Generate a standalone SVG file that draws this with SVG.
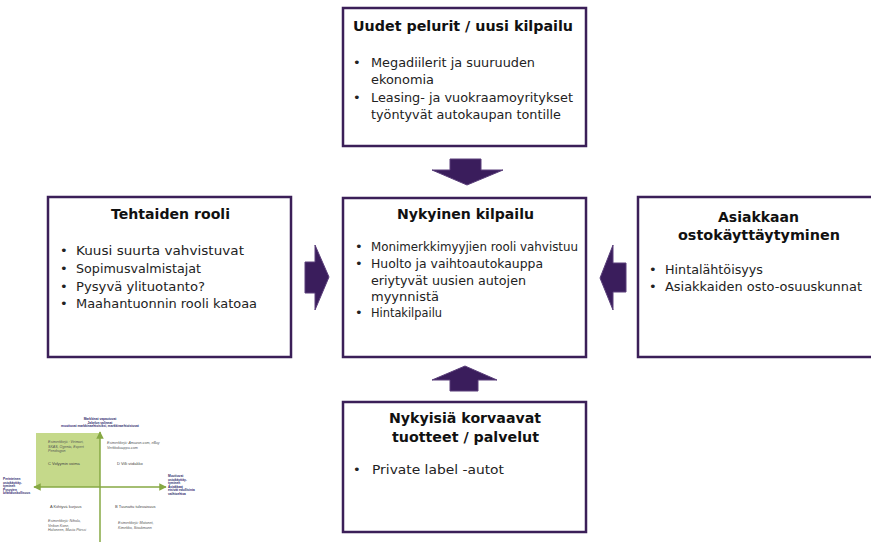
<svg xmlns="http://www.w3.org/2000/svg" width="871" height="542" viewBox="0 0 871 542">
<style>
.box{fill:#fff;stroke:#3b1f58;stroke-width:2.5}
.arr{fill:#3a1d5c;stroke:#5a3f7a;stroke-width:1}
.t{font-family:"DejaVu Sans",Verdana,sans-serif;font-size:14px;font-weight:bold;fill:#111}
.b{font-family:"DejaVu Sans",Verdana,sans-serif;font-size:13px;fill:#222}
.ax{stroke:#86a843;stroke-width:1.5;fill:none}
.c{font-family:"Liberation Sans",Arial,sans-serif;font-size:4px;fill:#444}
.ci{font-family:"Liberation Sans",Arial,sans-serif;font-size:3.6px;fill:#555;font-style:italic}
.cl{font-family:"Liberation Sans",Arial,sans-serif;font-size:3.2px;fill:#2e2a6e;font-weight:bold}
</style>
<defs>
<marker id="ah" viewBox="0 0 10 10" refX="9" refY="5" markerWidth="5" markerHeight="5" orient="auto-start-reverse">
<path d="M0,0 L10,5 L0,10 z" fill="#86a843"/>
</marker>
</defs>

<g id="connectors">
<path class="arr" d="M450,159 H481 V170 H503 L467,185 L432,170 H450 Z"/>
<path class="arr" d="M305,262 H315 V245 L329,277 L315,310 V293 H305 Z"/>
<path class="arr" d="M626,263 H613 V245 L600,278 L613,310 V292 H626 Z"/>
<path class="arr" d="M450,391 H478 V380 H497 L465,366 L432,380 H450 Z"/>
</g>

<g id="uudet">
<rect class="box" x="343" y="8" width="243" height="138"/>
<text class="t" x="353" y="31" textLength="220" lengthAdjust="spacingAndGlyphs">Uudet pelurit / uusi kilpailu</text>
<text class="b" x="353" y="67">•</text><text class="b" x="371" y="67" textLength="164" lengthAdjust="spacingAndGlyphs">Megadiilerit ja suuruuden</text>
<text class="b" x="371" y="84" textLength="63" lengthAdjust="spacingAndGlyphs">ekonomia</text>
<text class="b" x="353" y="102">•</text><text class="b" x="371" y="102" textLength="202" lengthAdjust="spacingAndGlyphs">Leasing- ja vuokraamoyritykset</text>
<text class="b" x="371" y="119" textLength="190" lengthAdjust="spacingAndGlyphs">työntyvät autokaupan tontille</text>
</g>

<g id="tehtaiden">
<rect class="box" x="48" y="197" width="243" height="160"/>
<text class="t" x="111" y="219" textLength="119" lengthAdjust="spacingAndGlyphs">Tehtaiden rooli</text>
<text class="b" x="60" y="255">•</text><text class="b" x="76" y="255" textLength="168" lengthAdjust="spacingAndGlyphs">Kuusi suurta vahvistuvat</text>
<text class="b" x="60" y="273">•</text><text class="b" x="76" y="273" textLength="125" lengthAdjust="spacingAndGlyphs">Sopimusvalmistajat</text>
<text class="b" x="60" y="291">•</text><text class="b" x="76" y="291" textLength="129" lengthAdjust="spacingAndGlyphs">Pysyvä ylituotanto?</text>
<text class="b" x="60" y="308">•</text><text class="b" x="76" y="308" textLength="181" lengthAdjust="spacingAndGlyphs">Maahantuonnin rooli katoaa</text>
</g>

<g id="nykyinen">
<rect class="box" x="343" y="198" width="243" height="159"/>
<text class="t" x="397" y="219" textLength="137" lengthAdjust="spacingAndGlyphs">Nykyinen kilpailu</text>
<text class="b" x="355" y="251">•</text><text class="b" x="371" y="251" textLength="207" lengthAdjust="spacingAndGlyphs">Monimerkkimyyjien rooli vahvistuu</text>
<text class="b" x="355" y="268">•</text><text class="b" x="371" y="268" textLength="172" lengthAdjust="spacingAndGlyphs">Huolto ja vaihtoautokauppa</text>
<text class="b" x="371" y="285" textLength="155" lengthAdjust="spacingAndGlyphs">eriytyvät uusien autojen</text>
<text class="b" x="371" y="301" textLength="68" lengthAdjust="spacingAndGlyphs">myynnistä</text>
<text class="b" x="355" y="317">•</text><text class="b" x="371" y="317" textLength="71" lengthAdjust="spacingAndGlyphs">Hintakilpailu</text>
</g>

<g id="asiakkaan">
<rect class="box" x="638" y="197" width="244" height="160"/>
<text class="t" x="718" y="222" textLength="81" lengthAdjust="spacingAndGlyphs">Asiakkaan</text>
<text class="t" x="678" y="240" textLength="162" lengthAdjust="spacingAndGlyphs">ostokäyttäytyminen</text>
<text class="b" x="649" y="274">•</text><text class="b" x="665" y="274" textLength="98" lengthAdjust="spacingAndGlyphs">Hintalähtöisyys</text>
<text class="b" x="649" y="291">•</text><text class="b" x="665" y="291" textLength="197" lengthAdjust="spacingAndGlyphs">Asiakkaiden osto-osuuskunnat</text>
</g>

<g id="korvaavat">
<rect class="box" x="343" y="402" width="243" height="130"/>
<text class="t" x="389" y="423" textLength="152" lengthAdjust="spacingAndGlyphs">Nykyisiä korvaavat</text>
<text class="t" x="392" y="442" textLength="147" lengthAdjust="spacingAndGlyphs">tuotteet / palvelut</text>
<text class="b" x="353" y="474">•</text><text class="b" x="372" y="474" textLength="132" lengthAdjust="spacingAndGlyphs">Private label -autot</text>
</g>

<g id="nelikentta">
<rect x="36" y="433" width="64" height="54" fill="#c5d98a"/>
<line class="ax" x1="100" y1="545" x2="100" y2="432" marker-end="url(#ah)"/>
<line class="ax" x1="34" y1="487" x2="166" y2="487" marker-start="url(#ah)" marker-end="url(#ah)"/>
<text class="cl" x="100" y="420" text-anchor="middle">Markkinat vapautuvat</text>
<text class="cl" x="100" y="423.5" text-anchor="middle">Jakelun valinnat</text>
<text class="cl" x="100" y="427" text-anchor="middle">muuttuvat markkinaehtoisiksi, markkinaehtoistuvat</text>
<text class="cl" x="3" y="480">Perinteinen</text>
<text class="cl" x="3" y="483.5">ostokäyttäy-</text>
<text class="cl" x="3" y="487">tyminen</text>
<text class="cl" x="3" y="490.5">Pysyvien</text>
<text class="cl" x="3" y="494">brändiuskollisuus</text>
<text class="cl" x="168" y="477">Muuttuvat</text>
<text class="cl" x="168" y="480.5">ostokäyttäy-</text>
<text class="cl" x="168" y="484">tyminen</text>
<text class="cl" x="168" y="487.5">Asiakkaat</text>
<text class="cl" x="168" y="491">etsivät edullisinta</text>
<text class="cl" x="168" y="494.5">vaihtoehtoa</text>
<text class="ci" x="48" y="443">Esimerkkejä : Veimari,</text>
<text class="ci" x="48" y="447.5">SKAS, Ogenta, Expert</text>
<text class="ci" x="48" y="452">Pendragon</text>
<text class="c" x="48" y="465">C Volyymin voima</text>
<text class="ci" x="107" y="444">Esimerkkejä: Amazon.com, eBay</text>
<text class="ci" x="107" y="448.5">Verkkokauppa.com</text>
<text class="c" x="117" y="465">D Villi viidakko</text>
<text class="c" x="50" y="508">A Kiihtyvä kurjuus</text>
<text class="c" x="115" y="508">B Tuunattu tulevaisuus</text>
<text class="ci" x="48" y="522">Esimerkkejä: Nihola,</text>
<text class="ci" x="48" y="526.5">Veikon Kone,</text>
<text class="ci" x="48" y="531">Haloneen, Musta Pörssi</text>
<text class="ci" x="118" y="524">Esimerkkejä: Motonet,</text>
<text class="ci" x="118" y="528.5">Kimekko, Stockmann</text>
</g>
</svg>
